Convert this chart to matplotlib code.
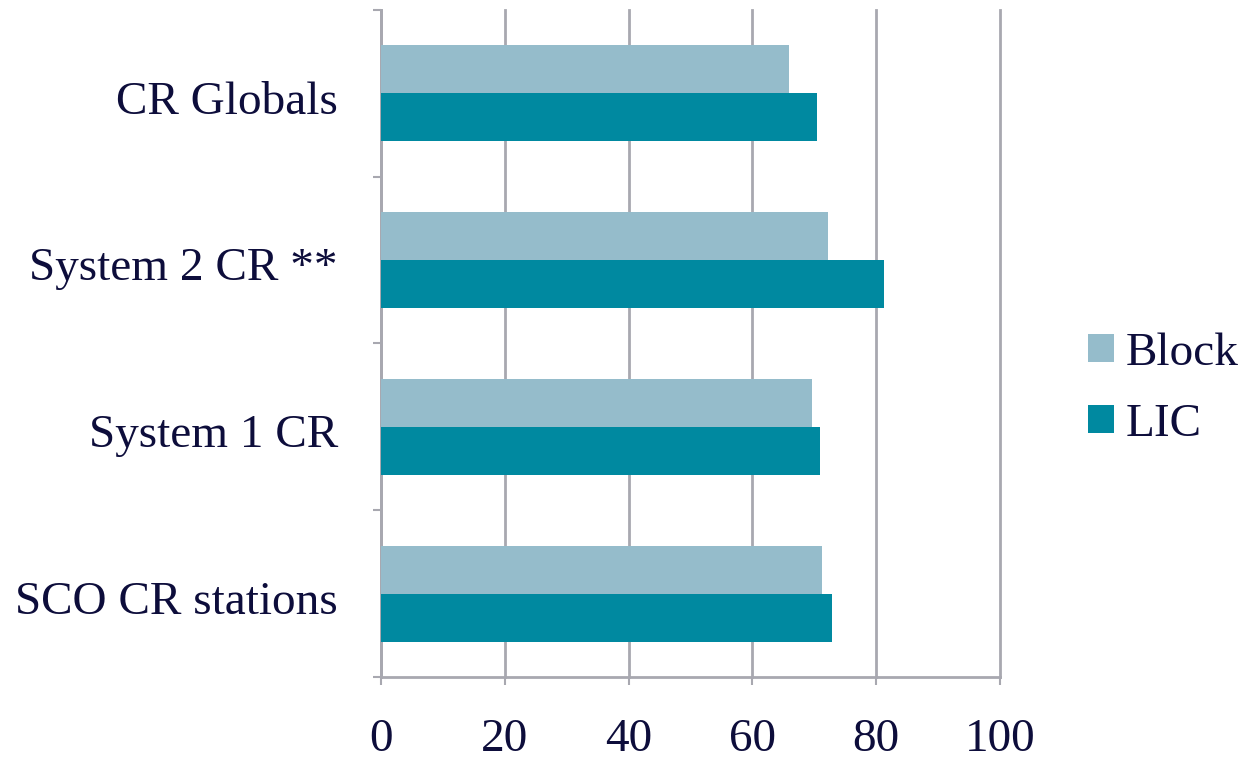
import numpy as np
import matplotlib.pyplot as plt
from matplotlib.transforms import ScaledTranslation

categories = ["SCO CR stations", "System 1 CR", "System 2 CR **", "CR Globals"]
block = [71.2, 69.7, 72.2, 65.9]
lic = [72.8, 71.0, 81.2, 70.5]
series_names = ["Block", "LIC"]
xticks = [0, 20, 40, 60, 80, 100]

text_color = "#0d0d3b"
grid_color = "#a8a8b0"
plt.rcParams['font.family'] = ['Liberation Serif', 'DejaVu Serif']

fig = plt.figure(figsize=(12.43, 7.62), dpi=100)
ax = fig.add_axes([381/1243, 85/762, 619/1243, 667/762])

y = np.arange(len(categories))
h = 0.288
ax.barh(y + h/2, block, height=h, color="#95bccb", label=series_names[0], zorder=3)
ax.barh(y - h/2, lic, height=h, color="#0089a0", label=series_names[1], zorder=3)

ax.set_xlim(0, 100)
ax.set_ylim(-0.5, len(categories) - 0.5)
ax.set_xticks(xticks)
ax.set_xticklabels([str(v) for v in xticks], fontsize=34, color=text_color)
ax.set_yticks(y)
ax.set_yticklabels(categories, fontsize=34, color=text_color)
ax.set_yticks(np.arange(len(categories) + 1) - 0.5, minor=True)
ax.tick_params(axis='y', which='major', length=0, pad=31)
ax.tick_params(axis='y', which='minor', length=6, width=1.5, color=grid_color, direction='out')
ax.tick_params(axis='x', length=6, width=1.5, color=grid_color, pad=24)

# nudge category labels down a little
shift = ScaledTranslation(0, -4/100, fig.dpi_scale_trans)
for lab in ax.get_yticklabels():
    lab.set_transform(lab.get_transform() + shift)

ax.xaxis.grid(True, color=grid_color, linewidth=2, zorder=0)
for gl in ax.get_xgridlines():
    gl.set_clip_on(False)
for s in ['top', 'right']:
    ax.spines[s].set_visible(False)
for s in ['left', 'bottom']:
    ax.spines[s].set_color(grid_color)
    ax.spines[s].set_linewidth(2)

handles, labels = ax.get_legend_handles_labels()
fig.legend(handles, labels, loc='center left', bbox_to_anchor=(1088/1243, 1 - 389/762),
           frameon=False, fontsize=34, labelcolor=text_color, handlelength=0.55,
           handleheight=0.55, handletextpad=0.25, labelspacing=0.6,
           borderpad=0, borderaxespad=0)

fig.savefig("out.png", dpi=100)
